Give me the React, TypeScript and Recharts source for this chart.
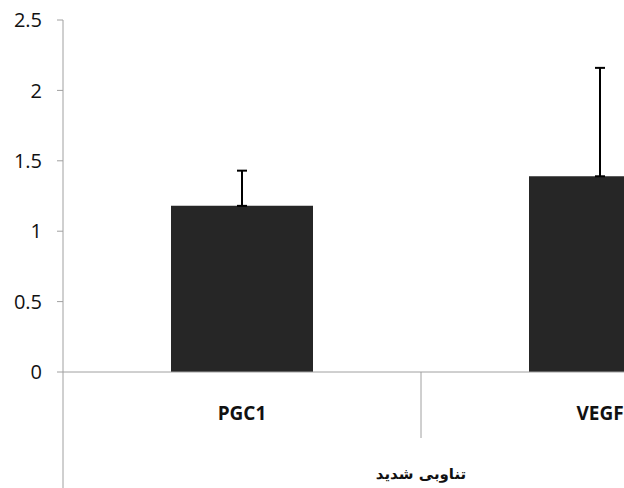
import React from 'react';
import { BarChart, Bar, XAxis, YAxis, ErrorBar, Label } from 'recharts';

const categories = ['PGC1', 'VEGF'];
const means = [1.18, 1.39];
const errors = [0.25, 0.77];
const yTicks = [0, 0.5, 1, 1.5, 2, 2.5];
const groupLabel = 'تناوبی شدید';

const data = categories.map((name, i) => ({
  name,
  value: means[i],
  err: [0, errors[i]],
}));

const AXIS_GRAY = '#a0a0a0';
const X_AXIS_HEIGHT = 116;

function CategoryTick(props: any) {
  const { x, y, payload, index, width, visibleTicksCount } = props;
  const half = payload.offset || width / visibleTicksCount / 2;
  return (
    <g>
      {index === 0 && (
        <line x1={x - half} y1={y} x2={x - half} y2={y + X_AXIS_HEIGHT} stroke={AXIS_GRAY} />
      )}
      <line x1={x + half} y1={y} x2={x + half} y2={y + 66} stroke={AXIS_GRAY} />
      <text
        x={x}
        y={y + 48}
        textAnchor="middle"
        fontFamily="Open Sans"
        fontWeight="bold"
        fontSize={19}
        fill="#111"
      >
        {payload.value}
      </text>
    </g>
  );
}

export default function App() {
  return (
    <div style={{ position: 'absolute', left: 0, top: 0, width: 624, height: 488, overflow: 'hidden', background: '#fff' }}>
      <BarChart
        width={779}
        height={488}
        data={data}
        margin={{ top: 20, right: 0, bottom: 0, left: 0 }}
        barSize={142}
      >
        <YAxis
          width={63}
          domain={[0, 2.5]}
          ticks={yTicks}
          stroke={AXIS_GRAY}
          tickSize={6}
          tickMargin={15}
          tick={{ fill: '#111', fontFamily: 'Open Sans', fontSize: 20 }}
          axisLine={{ stroke: AXIS_GRAY }}
          tickLine={{ stroke: AXIS_GRAY }}
        />
        <XAxis
          dataKey="name"
          height={X_AXIS_HEIGHT}
          tickSize={0}
          tickMargin={0}
          tickLine={false}
          axisLine={{ stroke: AXIS_GRAY }}
          tick={<CategoryTick />}
          interval={0}
        >
          <Label
            value={groupLabel}
            position="insideBottom"
            offset={9}
            fontFamily="DejaVu Sans"
            fontWeight="bold"
            fontSize={15}
            fill="#111"
          />
        </XAxis>
        <Bar dataKey="value" fill="#262626" isAnimationActive={false}>
          <ErrorBar dataKey="err" direction="y" width={5} stroke="#000" strokeWidth={2} />
        </Bar>
      </BarChart>
    </div>
  );
}
